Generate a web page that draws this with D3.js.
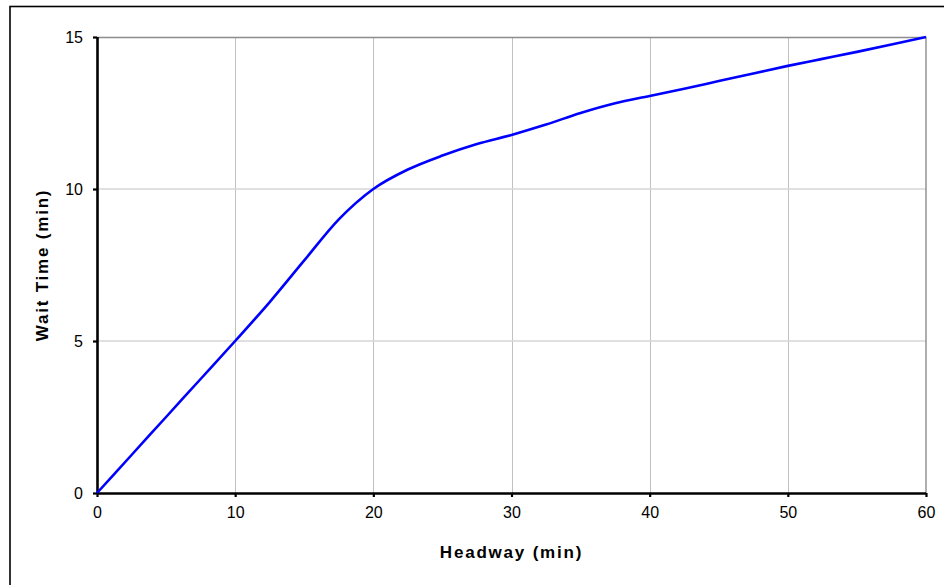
<!DOCTYPE html>
<html>
<head>
<meta charset="utf-8">
<script src="https://cdn.jsdelivr.net/npm/d3@7"></script>
<style>
  html, body { margin: 0; padding: 0; background: #fff; }
  svg { display: block; font-family: "Liberation Sans", Arial, sans-serif; }
</style>
</head>
<body>
<svg id="chart" width="944" height="585"></svg>
<script>
// Headway (min) and the resulting average wait time (min)
const headways = [0, 2.5, 5, 7.5, 10, 12.5, 15, 17.5, 20, 22.5, 25, 27.5, 30, 32.5, 35, 37.5, 40, 42.5, 45, 47.5, 50, 52.5, 55, 57.5, 60];
const waitTimes = [0, 1.25, 2.5, 3.75, 5.0, 6.28, 7.65, 9.0, 10.0, 10.64, 11.1, 11.48, 11.78, 12.12, 12.5, 12.82, 13.06, 13.3, 13.55, 13.8, 14.05, 14.28, 14.51, 14.75, 15.0];
const xTicks = [0, 10, 20, 30, 40, 50, 60];
const yTicks = [0, 5, 10, 15];
const xTitle = "Headway (min)";
const yTitle = "Wait Time (min)";

const svg = d3.select("#chart");
const plot = { left: 97, top: 37, right: 926, bottom: 493 };

const x = d3.scaleLinear().domain([0, 60]).range([plot.left, plot.right]);
const y = d3.scaleLinear().domain([0, 15]).range([plot.bottom, plot.top]);

// outer chart frame
svg.append("rect")
  .attr("x", 10).attr("y", 6.5)
  .attr("width", 960).attr("height", 600)
  .attr("fill", "none").attr("stroke", "#000").attr("stroke-width", 1.6);

// gridlines
svg.append("g").selectAll("line")
  .data(xTicks.filter(d => d > 0 && d < 60))
  .join("line")
  .attr("x1", d => Math.round(x(d)) + 0.5).attr("x2", d => Math.round(x(d)) + 0.5)
  .attr("y1", plot.top).attr("y2", plot.bottom)
  .attr("stroke", "#c0c0c0").attr("stroke-width", 1);

svg.append("g").selectAll("line")
  .data(yTicks.filter(d => d > 0 && d < 15))
  .join("line")
  .attr("x1", plot.left).attr("x2", plot.right)
  .attr("y1", d => y(d)).attr("y2", d => y(d))
  .attr("stroke", "#d6d6d6").attr("stroke-width", 1.4);

// plot-area border (top and right)
svg.append("path")
  .attr("d", `M${plot.left},${plot.top + 0.5}H${plot.right}V${plot.bottom}`)
  .attr("fill", "none").attr("stroke", "#8c8c8c").attr("stroke-width", 1.4);

// axes
const xAxis = d3.axisBottom(x).tickValues(xTicks).tickSize(4).tickPadding(10).tickFormat(d3.format("d"));
const yAxis = d3.axisLeft(y).tickValues(yTicks).tickSize(4).tickPadding(10).tickFormat(d3.format("d"));

const gx = svg.append("g").attr("transform", `translate(0,${plot.bottom})`).call(xAxis);
const gy = svg.append("g").attr("transform", `translate(${plot.left},0)`).call(yAxis);

[gx, gy].forEach(g => {
  g.select(".domain").attr("stroke", "#000").attr("stroke-width", 2.6);
  g.selectAll(".tick line").attr("stroke", "#000").attr("stroke-width", 2.2);
  g.selectAll(".tick text")
    .attr("fill", "#000")
    .style("font-family", "'Liberation Sans', Arial, sans-serif")
    .style("font-size", "16px");
});
gx.select(".domain").attr("d", `M${plot.left},0.5H${plot.right}`);
gy.select(".domain").attr("d", `M0.5,${plot.top}V${plot.bottom}`);

// the wait-time curve
const line = d3.line()
  .x((d, i) => x(headways[i]))
  .y(d => y(d))
  .curve(d3.curveMonotoneX);

svg.append("path")
  .datum(waitTimes)
  .attr("d", line)
  .attr("fill", "none")
  .attr("stroke", "#0000ff")
  .attr("stroke-width", 2.6)
  .attr("stroke-linejoin", "round");

// axis titles
svg.append("text")
  .attr("x", (plot.left + plot.right) / 2)
  .attr("y", 558)
  .attr("text-anchor", "middle")
  .style("font-size", "17px")
  .style("font-weight", "bold")
  .style("letter-spacing", "1.8px")
  .text(xTitle);

svg.append("text")
  .attr("transform", `translate(48,${(plot.top + plot.bottom) / 2}) rotate(-90)`)
  .attr("text-anchor", "middle")
  .style("font-size", "17px")
  .style("font-weight", "bold")
  .style("letter-spacing", "1.8px")
  .text(yTitle);
</script>
</body>
</html>
